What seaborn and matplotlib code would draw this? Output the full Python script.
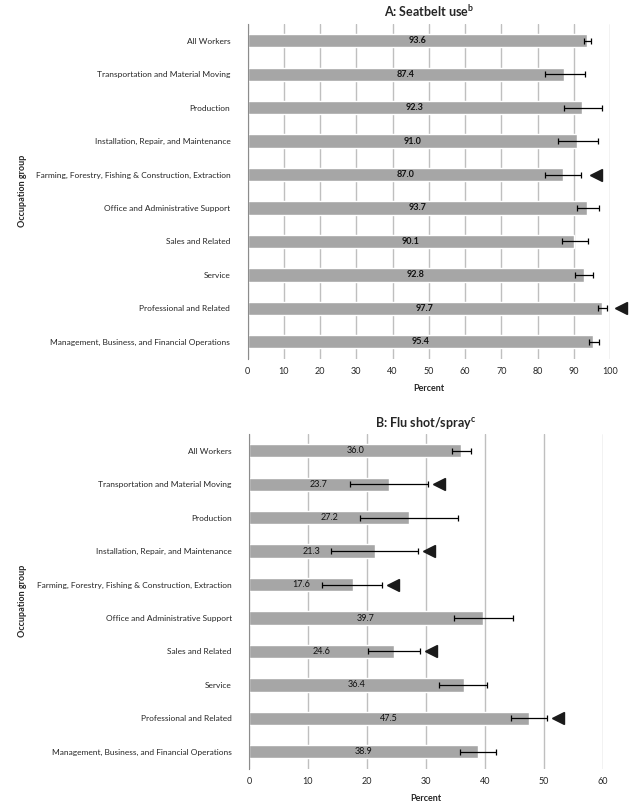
import seaborn as sns
import pandas as pd
import matplotlib.pyplot as plt
import numpy as np

groups = ["All Workers", "Transportation and Material Moving", "Production",
          "Installation, Repair, and Maintenance",
          "Farming, Forestry, Fishing & Construction, Extraction",
          "Office and Administrative Support", "Sales and Related", "Service",
          "Professional and Related", "Management, Business, and Financial Operations"]

# A: seatbelt use
seat_val = [93.6, 87.4, 92.3, 91.0, 87.0, 93.7, 90.1, 92.8, 97.7, 95.4]
seat_lo = [92.9, 82.1, 87.4, 85.6, 82.2, 91.0, 86.8, 90.3, 96.8, 94.1]
seat_hi = [94.7, 93.1, 97.7, 96.8, 92.1, 96.9, 93.8, 95.4, 99.1, 96.9]
seat_flag = [0, 0, 0, 0, 1, 0, 0, 0, 1, 0]

# B: flu shot/spray
flu_val = [36.0, 23.7, 27.2, 21.3, 17.6, 39.7, 24.6, 36.4, 47.5, 38.9]
flu_lo = [34.4, 17.1, 18.9, 13.9, 12.4, 34.7, 20.1, 32.2, 44.4, 35.8]
flu_hi = [37.6, 30.3, 35.5, 28.6, 22.6, 44.7, 29.0, 40.4, 50.6, 41.9]
flu_flag = [0, 1, 0, 1, 1, 0, 1, 0, 1, 0]

sns.set_style("white")
plt.rcParams['font.family'] = ['Lato', 'DejaVu Sans']

fig = plt.figure(figsize=(6.39, 8.06), dpi=100)
ax_a = fig.add_axes([0.3876, 0.5552, 0.567, 0.415])
ax_b = fig.add_axes([0.3897, 0.0465, 0.5535, 0.415])

panels = [
    (ax_a, seat_val, seat_lo, seat_hi, seat_flag, 100, "A: Seatbelt use", "b", "bold", 4.0, -0.609),
    (ax_b, flu_val, flu_lo, flu_hi, flu_flag, 60, "B: Flu shot/spray", "c", "normal", 1.9, -0.628),
]

for ax, val, lo, hi, flag, xmax, title, sup, vweight, off, lx in panels:
    df = pd.DataFrame({"group": groups, "value": val, "lo": lo, "hi": hi, "flag": flag})
    sns.barplot(data=df, x="value", y="group", orient="h", color="#A6A6A6",
                saturation=1, width=0.4, errorbar=None, ax=ax, zorder=2)
    pos = np.arange(len(df))
    ax.errorbar(df["value"], pos, xerr=[df["value"] - df["lo"], df["hi"] - df["value"]],
                fmt="none", ecolor="black", elinewidth=0.9, capsize=2, capthick=0.9, zorder=3)
    for i, r in df.iterrows():
        ax.text(r["value"] / 2, i, f"{r['value']:.1f}", ha="center", va="center",
                fontsize=6.5, fontweight=vweight, color="#111111", zorder=4)
    fl = df[df["flag"] == 1]
    ax.plot(fl["hi"] + off, fl.index, marker="<", linestyle="none", color="#1a1a1a",
            markersize=9, clip_on=False, zorder=4)

    ax.set_xlim(0, xmax)
    ax.set_ylim(len(df) - 0.5, -0.5)
    ax.set_xticks(np.arange(0, xmax + 1, 10))
    ax.grid(axis="x", color="#BFBFBF", linewidth=1)
    ax.set_axisbelow(True)
    for s in ["top", "right", "bottom"]:
        ax.spines[s].set_visible(False)
    ax.spines["left"].set_color("#8C8C8C")
    ax.tick_params(axis="x", length=0, labelsize=6.5, pad=6)
    ax.tick_params(axis="y", length=0, labelsize=6.0, pad=12.5)
    ax.set_yticks(np.arange(-0.5, len(df), 1), minor=True)
    ax.tick_params(axis="y", which="minor", length=3, color="#8C8C8C", direction="out")
    ax.set_xlabel("Percent", fontsize=6.5, fontweight="bold", labelpad=6)
    ax.set_ylabel("Occupation group", fontsize=6.5, fontweight="bold")
    ax.yaxis.set_label_coords(lx, 0.5)
    ax.set_title(title + r"$^{\mathregular{" + sup + "}}$", fontsize=9, fontweight="bold", pad=5)

fig.savefig("out.png", dpi=100)
